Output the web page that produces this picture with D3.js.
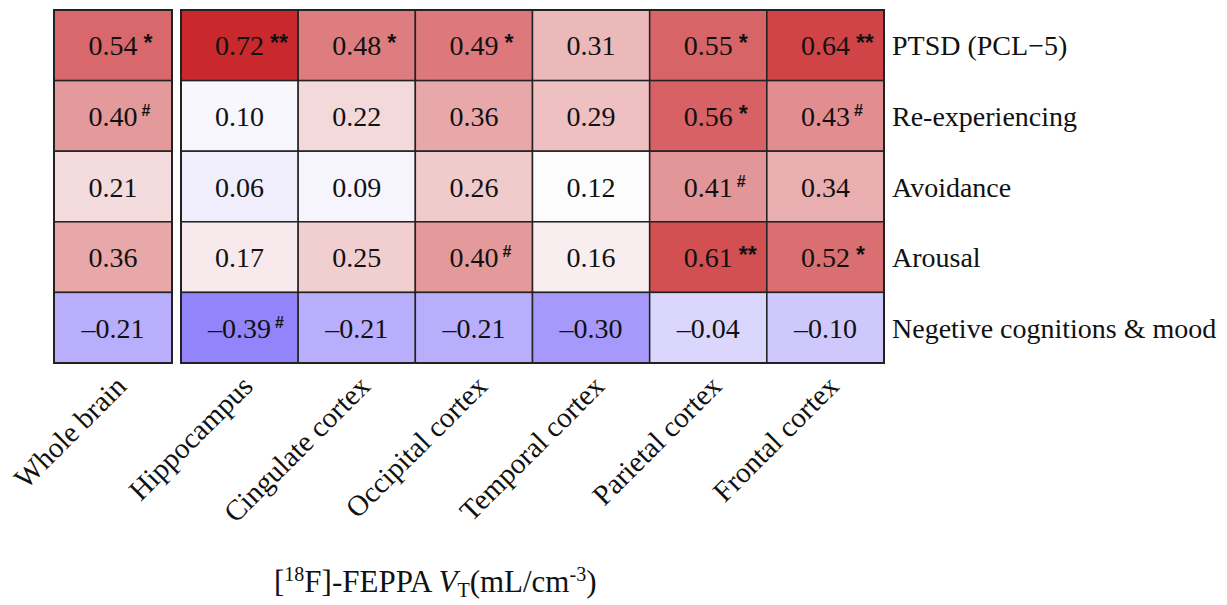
<!DOCTYPE html>
<html>
<head>
<meta charset="utf-8">
<script src="https://cdn.jsdelivr.net/npm/d3@7"></script>
<style>
  html, body { margin: 0; padding: 0; background: #fff; }
  svg { display: block; }
  text { font-family: "Liberation Serif", "Times New Roman", serif; fill: #111; }
</style>
</head>
<body>
<svg id="chart" width="1227" height="605"></svg>
<script>
// ---- data ----
const wholeColumn = ["Whole brain"];
const regionColumns = ["Hippocampus", "Cingulate cortex", "Occipital cortex", "Temporal cortex", "Parietal cortex", "Frontal cortex"];
const symptoms = ["PTSD (PCL\u22125)", "Re-experiencing", "Avoidance", "Arousal", "Negetive cognitions & mood"];

// rows = symptoms, columns = Whole brain, then regions
const ptsdValues     = [0.54, 0.72, 0.48, 0.49, 0.31, 0.55, 0.64];
const reexpValues    = [0.40, 0.10, 0.22, 0.36, 0.29, 0.56, 0.43];
const avoidValues    = [0.21, 0.06, 0.09, 0.26, 0.12, 0.41, 0.34];
const arousalValues  = [0.36, 0.17, 0.25, 0.40, 0.16, 0.61, 0.52];
const negValues      = [-0.21, -0.39, -0.21, -0.21, -0.30, -0.04, -0.10];

const ptsdMarks    = ["*", "**", "*", "*", "", "*", "**"];
const reexpMarks   = ["#", "", "", "", "", "*", "#"];
const avoidMarks   = ["", "", "", "", "", "#", ""];
const arousalMarks = ["", "", "", "#", "", "**", "*"];
const negMarks     = ["", "#", "", "", "", "", ""];

const valueRows = [ptsdValues, reexpValues, avoidValues, arousalValues, negValues];
const markRows  = [ptsdMarks, reexpMarks, avoidMarks, arousalMarks, negMarks];

const colorStops = [-0.39, 0.12, 0.72];
const colorRange = ["#9484fb", "#fcfcfd", "#c9282c"];

// ---- build ----
const svg = d3.select("#chart");
const allColumns = wholeColumn.concat(regionColumns);

const y = d3.scaleBand().domain(symptoms).range([10, 363]).padding(0);
const xWhole = d3.scaleBand().domain(wholeColumn).range([54, 172]).padding(0);
const xRegion = d3.scaleBand().domain(regionColumns).range([181, 884]).padding(0);
const xOf = c => wholeColumn.includes(c) ? xWhole(c) : xRegion(c);
const bw = c => wholeColumn.includes(c) ? xWhole.bandwidth() : xRegion.bandwidth();

const color = d3.scaleLinear().domain(colorStops).range(colorRange).interpolate(d3.interpolateRgb);

const cells = [];
symptoms.forEach((s, i) => {
  allColumns.forEach((c, j) => {
    cells.push({ s, c, v: valueRows[i][j], m: markRows[i][j] });
  });
});

const fmt = v => (v < 0 ? "\u2013" : "") + d3.format(".2f")(Math.abs(v));

const g = svg.append("g");
g.selectAll("rect.cell").data(cells).join("rect")
  .attr("class", "cell")
  .attr("x", d => xOf(d.c))
  .attr("y", d => y(d.s))
  .attr("width", d => bw(d.c))
  .attr("height", y.bandwidth())
  .attr("fill", d => color(d.v))
  .attr("stroke", "#222")
  .attr("stroke-width", 1.5);

// outer frames
g.append("rect").attr("x", xWhole.range()[0]).attr("y", y.range()[0])
  .attr("width", xWhole.range()[1] - xWhole.range()[0]).attr("height", y.range()[1] - y.range()[0])
  .attr("fill", "none").attr("stroke", "#222").attr("stroke-width", 2);
g.append("rect").attr("x", xRegion.range()[0]).attr("y", y.range()[0])
  .attr("width", xRegion.range()[1] - xRegion.range()[0]).attr("height", y.range()[1] - y.range()[0])
  .attr("fill", "none").attr("stroke", "#222").attr("stroke-width", 2);

// values
const labels = g.selectAll("g.val").data(cells).join("g").attr("class", "val");
labels.each(function(d) {
  const cx = xOf(d.c) + bw(d.c) / 2;
  const cy = y(d.s) + y.bandwidth() / 2;
  const sel = d3.select(this);
  const t = sel.append("text")
    .attr("x", cx).attr("y", cy).attr("dy", "0.36em")
    .attr("text-anchor", "middle")
    .style("font-size", "28px")
    .text(fmt(d.v));
  if (d.m) {
    const w = t.node().getComputedTextLength();
    const isHash = d.m === "#";
    sel.append("text")
      .attr("x", cx + w / 2 + (isHash ? 4 : 6))
      .attr("y", cy + (isHash ? 0 : 6))
      .style("font-family", "'Liberation Sans', Arial, sans-serif")
      .style("font-weight", "bold")
      .style("font-size", isHash ? "16px" : "23px")
      .text(d.m);
  }
});

// row labels (right)
const yAxis = d3.axisRight(y).tickSize(0).tickPadding(0);
const ya = svg.append("g").attr("transform", "translate(892,0)").call(yAxis);
ya.select(".domain").remove();
ya.selectAll("text")
  .attr("x", 0).attr("dy", "0.36em")
  .style("font-family", "'Liberation Serif', 'Times New Roman', serif")
  .style("font-size", "28px").attr("fill", "#111");

// column labels (rotated)
svg.append("g").selectAll("text").data(allColumns).join("text")
  .attr("text-anchor", "end")
  .attr("transform", c => `translate(${xOf(c) + bw(c) / 2 + 15},388) rotate(-45)`)
  .style("font-size", "29px")
  .text(c => c);

// x title
const title = svg.append("text").attr("x", 274).attr("y", 592).style("font-size", "31px");
title.append("tspan").text("[");
title.append("tspan").attr("dy", -11).style("font-size", "20px").text("18");
title.append("tspan").attr("dy", 11).text("F]-FEPPA ");
title.append("tspan").style("font-style", "italic").text("V");
title.append("tspan").attr("dy", 5).style("font-size", "20px").text("T");
title.append("tspan").attr("dy", -5).text("(mL/cm");
title.append("tspan").attr("dy", -11).style("font-size", "20px").text("-3");
title.append("tspan").attr("dy", 11).text(")");
</script>
</body>
</html>
